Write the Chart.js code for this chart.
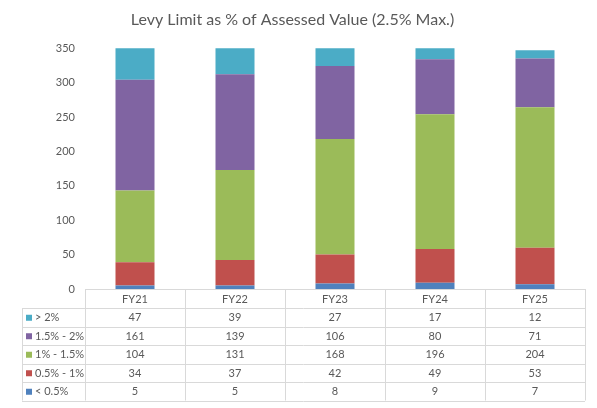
<!DOCTYPE html>
<html>
<head>
<meta charset="utf-8">
<script src="https://cdn.jsdelivr.net/npm/chart.js@4.4.1/dist/chart.umd.min.js"></script>
<style>
  html, body { margin: 0; padding: 0; background: #fff; }
  #wrap { width: 597px; height: 408px; }
</style>
</head>
<body>
<div id="wrap"><canvas id="chart" width="597" height="408"></canvas></div>
<script>
const years = ["FY21", "FY22", "FY23", "FY24", "FY25"];
const under05 = [5, 5, 8, 9, 7];
const from05to1 = [34, 37, 42, 49, 53];
const from1to15 = [104, 131, 168, 196, 204];
const from15to2 = [161, 139, 106, 80, 71];
const over2 = [47, 39, 27, 17, 12];
const yMax = 350;
const yStep = 50;

const FONT = "Lato, 'Liberation Sans', sans-serif";
const TEXT = "#595959";
const LINE = "#d9d9d9";

// data table under the plot, columns follow the x scale
const dataTable = {
  id: "dataTable",
  afterDraw(chart) {
    const ctx = chart.ctx;
    const x = chart.scales.x;
    const a = chart.chartArea;
    const colW = x.getPixelForValue(1) - x.getPixelForValue(0);
    const left = 22;
    const right = x.getPixelForValue(years.length - 1) + colW / 2;
    const top = a.bottom;
    const headH = 19;
    const rowH = 18.5;
    const rows = chart.data.datasets.slice().reverse();
    const bottom = top + headH + rowH * rows.length;

    ctx.save();
    ctx.strokeStyle = LINE;
    ctx.lineWidth = 1;
    ctx.beginPath();
    ctx.moveTo(a.left, top + 0.5); ctx.lineTo(right, top + 0.5);
    for (let r = 0; r <= rows.length; r++) {
      const y = Math.round(top + headH + r * rowH) + 0.5;
      ctx.moveTo(left, y); ctx.lineTo(right, y);
    }
    ctx.moveTo(left + 0.5, top + headH); ctx.lineTo(left + 0.5, bottom);
    for (let i = 0; i <= years.length; i++) {
      const xx = Math.round(x.getPixelForValue(i) - colW / 2) + 0.5;
      ctx.moveTo(xx, top); ctx.lineTo(xx, bottom);
    }
    ctx.stroke();

    ctx.font = "11px " + FONT;
    ctx.fillStyle = TEXT;
    ctx.textBaseline = "middle";
    ctx.textAlign = "center";
    years.forEach((yr, i) => ctx.fillText(yr, x.getPixelForValue(i), top + headH / 2 + 1));

    rows.forEach((ds, r) => {
      const cy = top + headH + r * rowH + rowH / 2 + 0.5;
      ctx.fillStyle = ds.backgroundColor;
      ctx.fillRect(26, cy - 3, 6, 6);
      ctx.fillStyle = TEXT;
      ctx.textAlign = "left";
      ctx.fillText(ds.label, 35, cy);
      ctx.textAlign = "center";
      ds.data.forEach((v, i) => ctx.fillText(String(v), x.getPixelForValue(i), cy));
    });
    ctx.restore();
  }
};

new Chart(document.getElementById("chart"), {
  type: "bar",
  data: {
    labels: years,
    datasets: [
      { label: "< 0.5%", data: under05, backgroundColor: "#4f81bd" },
      { label: "0.5% - 1%", data: from05to1, backgroundColor: "#c0504d" },
      { label: "1% - 1.5%", data: from1to15, backgroundColor: "#9bbb59" },
      { label: "1.5% - 2%", data: from15to2, backgroundColor: "#8064a2" },
      { label: "> 2%", data: over2, backgroundColor: "#4bacc6" }
    ]
  },
  options: {
    responsive: false,
    animation: false,
    layout: { padding: { top: 8, right: 12, bottom: 119, left: 0 } },
    datasets: { bar: { categoryPercentage: 1, barPercentage: 0.39, borderWidth: 0 } },
    plugins: {
      legend: { display: false },
      tooltip: { enabled: false },
      title: {
        display: true,
        text: "Levy Limit as % of Assessed Value (2.5% Max.)",
        color: TEXT,
        font: { family: FONT, size: 16, weight: "normal" },
        padding: { top: 2, bottom: 19 }
      }
    },
    scales: {
      x: { stacked: true, display: false },
      y: {
        stacked: true,
        min: 0,
        max: yMax,
        border: { display: false },
        grid: { display: false, drawTicks: false },
        ticks: { stepSize: yStep, padding: 10, color: TEXT, font: { family: FONT, size: 11 } },
        afterFit(s) { s.width = 85; }
      }
    }
  },
  plugins: [dataTable]
});
</script>
</body>
</html>
